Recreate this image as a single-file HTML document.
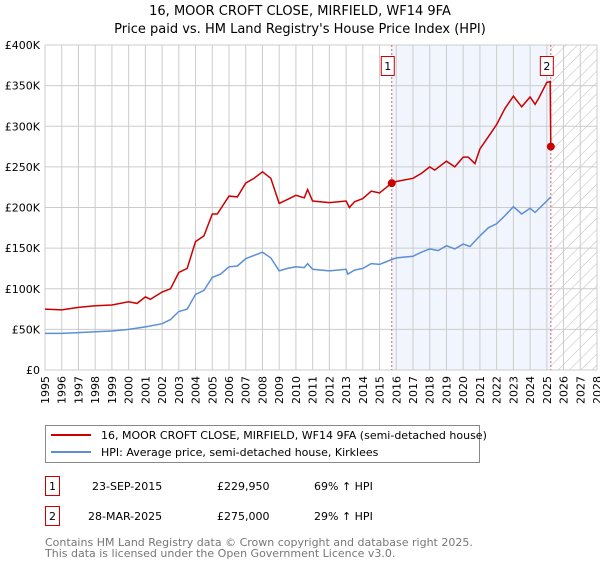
<!DOCTYPE html>
<html><head><meta charset="utf-8"><style>
body{margin:0;background:#fff;font-family:"Liberation Sans","DejaVu Sans",sans-serif;}
svg text{font-family:"DejaVu Sans","Liberation Sans",sans-serif;}
</style></head><body>
<svg id="c" width="600" height="560" xmlns="http://www.w3.org/2000/svg">
<defs><pattern id="hatch" width="8" height="8" patternUnits="userSpaceOnUse" patternTransform="rotate(45)"><line x1="0" y1="0" x2="0" y2="8" stroke="#bbb" stroke-width="1"/></pattern></defs>
<text x="300" y="15" text-anchor="middle" font-size="13">16, MOOR CROFT CLOSE, MIRFIELD, WF14 9FA</text>
<text x="300" y="33" text-anchor="middle" font-size="13">Price paid vs. HM Land Registry's House Price Index (HPI)</text>
<g id="plot"></g>
<g>
<rect x="45.5" y="425.5" width="434" height="37" fill="#fff" stroke="#888"/>
<line x1="51" y1="435" x2="91" y2="435" stroke="#cc0000" stroke-width="2"/>
<text x="101" y="439" font-size="11">16, MOOR CROFT CLOSE, MIRFIELD, WF14 9FA (semi-detached house)</text>
<line x1="51" y1="452" x2="91" y2="452" stroke="#5b8fd6" stroke-width="2"/>
<text x="101" y="456" font-size="11">HPI: Average price, semi-detached house, Kirklees</text>
</g>
<g font-size="11">
<rect x="45.5" y="476.5" width="14" height="19" fill="#fff" stroke="#cc0000"/><text x="52.5" y="490" text-anchor="middle">1</text>
<text x="92" y="490">23-SEP-2015</text><text x="217" y="490">£229,950</text><text x="314" y="490">69% ↑ HPI</text>
<rect x="45.5" y="506.5" width="14" height="19" fill="#fff" stroke="#cc0000"/><text x="52.5" y="520" text-anchor="middle">2</text>
<text x="88" y="520">28-MAR-2025</text><text x="217" y="520">£275,000</text><text x="314" y="520">29% ↑ HPI</text>
</g>
<text x="45" y="546" font-size="11" fill="#777">Contains HM Land Registry data © Crown copyright and database right 2025.</text>
<text x="45" y="557" font-size="11" fill="#777">This data is licensed under the Open Government Licence v3.0.</text>
</svg>
<script>
const yTicks=[0,50,100,150,200,250,300,350,400];
const yTickLabels=["£0","£50K","£100K","£150K","£200K","£250K","£300K","£350K","£400K"];
const years=[1995,1996,1997,1998,1999,2000,2001,2002,2003,2004,2005,2006,2007,2008,2009,2010,2011,2012,2013,2014,2015,2016,2017,2018,2019,2020,2021,2022,2023,2024,2025,2026,2027,2028];
const redT=[1995,1996,1997,1998,1999,2000,2000.5,2001,2001.3,2002,2002.5,2003,2003.5,2004,2004.5,2005,2005.3,2006,2006.5,2007,2007.5,2008,2008.5,2009,2009.5,2010,2010.5,2010.7,2011,2012,2013,2013.2,2013.5,2014,2014.5,2015,2015.73,2016,2017,2017.5,2018,2018.3,2019,2019.5,2020,2020.3,2020.7,2021,2021.5,2022,2022.5,2023,2023.5,2024,2024.3,2024.5,2025,2025.2,2025.24];
const redV=[75,74,77,79,80,84,82,90,87,96,100,120,125,158,165,192,192,214,213,230,236,244,236,205,210,215,212,222,208,206,208,200,207,211,220,218,230,232,236,242,250,246,257,250,262,262,254,272,287,302,322,337,324,336,327,334,354,355,275];
const hpiT=[1995,1996,1997,1998,1999,2000,2001,2002,2002.5,2003,2003.5,2004,2004.5,2005,2005.5,2006,2006.5,2007,2008,2008.5,2009,2009.5,2010,2010.5,2010.7,2011,2012,2013,2013.1,2013.5,2014,2014.5,2015,2015.73,2016,2017,2017.5,2018,2018.5,2019,2019.5,2020,2020.4,2021,2021.5,2022,2022.5,2023,2023.5,2024,2024.3,2025,2025.24];
const hpiV=[45,45,46,47,48,50,53,57,62,72,75,93,98,114,118,127,128,137,145,138,122,125,127,126,131,124,122,124,118,123,125,131,130,136,138,140,145,149,147,153,149,155,152,165,175,180,190,201,192,199,194,208,213];
const saleT=[2015.73,2025.24];
const saleV=[229.95,275];
const saleLabels=["1","2"];
const L=45,R=597,T=45,B=370;
const x=t=>L+(t-1995)/(2028-1995)*(R-L);
const y=v=>B-v/400*(B-T);
const NS="http://www.w3.org/2000/svg";
const g=document.getElementById('plot');
function mk(tag,at){const e=document.createElementNS(NS,tag);for(const k in at)e.setAttribute(k,at[k]);g.appendChild(e);return e;}
let e;
e=mk('rect',{x:x(saleT[0]),y:T,width:x(saleT[1])-x(saleT[0]),height:B-T,fill:'#eef3fc',opacity:0.8});


e=mk('rect',{x:x(saleT[1]),y:T,width:R-x(saleT[1]),height:B-T,fill:'url(#hatch)'});


years.forEach((yr,i)=>{
 e=mk('line',{x1:x(yr),x2:x(yr),y1:T,y2:B,stroke:'#ccc','stroke-width':1});
 
 
 e=mk('text',{x:0,y:0,'font-size':11,'text-anchor':'end',transform:`translate(${x(yr)+4},${B+6}) rotate(-90)`});
 e.textContent=yr;
 
 
});
yTicks.forEach((v,i)=>{
 e=mk('line',{x1:L,x2:R,y1:y(v),y2:y(v),stroke:'#ccc','stroke-width':1});
 
 
 e=mk('text',{x:L-5,y:y(v)+4,'font-size':11,'text-anchor':'end'});
 e.textContent=yTickLabels[i];
 
 
});
saleT.forEach((t,i)=>{
 e=mk('line',{x1:x(t),x2:x(t),y1:T,y2:B,stroke:'#e06060','stroke-width':1,'stroke-dasharray':'2,2'});
 
 
});
function path(ts,vs,col,name){
 const d=ts.map((t,i)=>(i?'L':'M')+x(t).toFixed(1)+','+y(vs[i]).toFixed(1)).join('');
 e=mk('path',{d:d,fill:'none',stroke:col,'stroke-width':1.5});
 
 
}
path(hpiT,hpiV,'#5b8fd6','hpi-line');
path(redT,redV,'#cc0000','property-line');
saleT.forEach((t,i)=>{
 e=mk('circle',{cx:x(t),cy:y(saleV[i]),r:4,fill:'#cc0000'});
 
 
 e=mk('rect',{x:x(t)-10.5,y:56.5,width:13,height:19,fill:'#fff',stroke:'#cc0000'});
 
 
 e=mk('text',{x:x(t)-4,y:70,'font-size':11,'text-anchor':'middle'});
 e.textContent=saleLabels[i];
 
 
});
</script>
</body></html>
